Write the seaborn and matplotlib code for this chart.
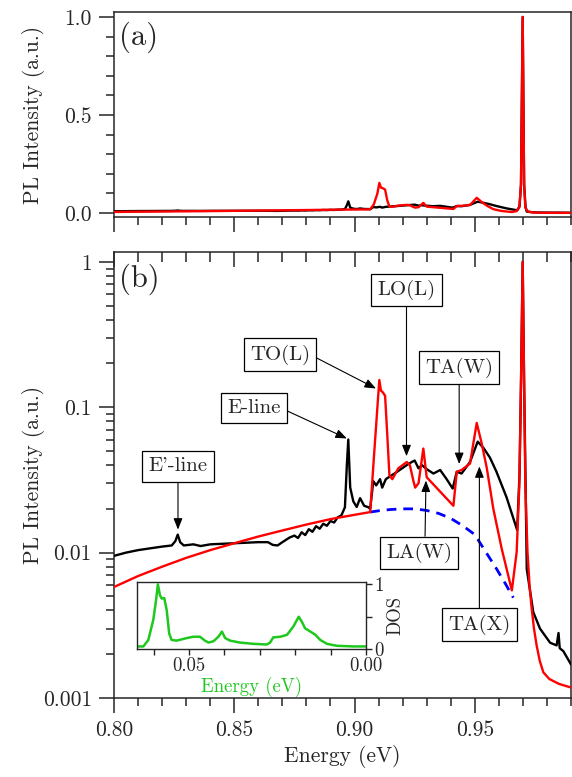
import matplotlib
matplotlib.use("Agg")
import matplotlib.pyplot as plt
import matplotlib.ticker as mticker
import seaborn as sns

# measured PL spectrum (black)
energy_exp = [0.800, 0.805, 0.810, 0.815, 0.820, 0.824, 0.8255, 0.8265, 0.8275, 0.829,
              0.833, 0.836, 0.840, 0.845, 0.850, 0.855, 0.860, 0.864, 0.866, 0.868,
              0.870, 0.873, 0.875, 0.8765, 0.878, 0.8795, 0.881, 0.8825, 0.884, 0.8855,
              0.887, 0.8885, 0.890, 0.8915, 0.893, 0.8945, 0.896, 0.8968, 0.8974, 0.8982,
              0.8995, 0.9009, 0.9023, 0.904, 0.9058, 0.9065,
              0.9078, 0.909, 0.9106, 0.9115, 0.913, 0.9148, 0.9175, 0.9217, 0.9238, 0.925,
              0.9266, 0.928, 0.930, 0.9328, 0.9356, 0.9383, 0.9408, 0.9425, 0.9445, 0.948,
              0.9512, 0.9536, 0.9563, 0.959, 0.9632, 0.9676, 0.9686, 0.9692, 0.9699, 0.9705,
              0.9711, 0.9716, 0.9743, 0.9771, 0.9813, 0.9840, 0.9848, 0.9853, 0.9868, 0.990]
pl_exp = [0.0095, 0.0100, 0.0104, 0.0107, 0.0110, 0.0112, 0.0120, 0.0133, 0.0118, 0.0112,
          0.0114, 0.0111, 0.0114, 0.0115, 0.0116, 0.0117, 0.0118, 0.0118, 0.0113, 0.0112,
          0.0118, 0.0127, 0.0131, 0.0126, 0.0138, 0.0132, 0.0145, 0.0139, 0.0152, 0.0146,
          0.0158, 0.0153, 0.0165, 0.0161, 0.0175, 0.0180, 0.0205, 0.0400, 0.0600, 0.0280,
          0.0225, 0.0206, 0.0237, 0.0210, 0.0205, 0.0200,
          0.0310, 0.0290, 0.0320, 0.0280, 0.0320, 0.0335, 0.0358, 0.0400, 0.0420, 0.0430,
          0.0380, 0.0400, 0.0375, 0.0350, 0.0370, 0.0320, 0.0276, 0.0360, 0.0350, 0.0420,
          0.0580, 0.0525, 0.0450, 0.0360, 0.0240, 0.0143, 0.0350, 0.1450, 1.0000, 0.1450,
          0.0300, 0.0077, 0.0039, 0.0030, 0.0024, 0.0023, 0.0028, 0.0022, 0.0021, 0.0017]

# simulated spectrum (red)
energy_sim = [0.800, 0.810, 0.820, 0.830, 0.840, 0.850, 0.860, 0.870, 0.880, 0.890,
              0.900, 0.9065, 0.9080, 0.9095, 0.9103, 0.9110, 0.9117, 0.9127, 0.9136, 0.9145,
              0.9157, 0.9182, 0.9217, 0.9230, 0.9245, 0.9252, 0.9266, 0.9286, 0.9300, 0.9411,
              0.9425, 0.9445, 0.9480, 0.9508, 0.9529, 0.9550, 0.9577, 0.9612, 0.9654, 0.9674,
              0.9685, 0.9692, 0.9699, 0.9705, 0.9710, 0.9719, 0.9728, 0.9736, 0.9746, 0.9757,
              0.9770, 0.9785, 0.9810, 0.9850, 0.9900]
pl_sim = [0.0058, 0.0069, 0.0080, 0.0092, 0.0104, 0.0116, 0.0129, 0.0142, 0.0156, 0.0170,
          0.0182, 0.0190, 0.0440, 0.1000, 0.1540, 0.1300, 0.1270, 0.1200, 0.0650, 0.0340,
          0.0320, 0.0380, 0.0420, 0.0400, 0.0310, 0.0280, 0.0300, 0.0520, 0.0330, 0.0210,
          0.0360, 0.0370, 0.0410, 0.0780, 0.0560, 0.0380, 0.0200, 0.0106, 0.0055, 0.0101,
          0.0290, 0.1450, 1.0000, 0.1450, 0.0290, 0.0101, 0.0058, 0.0042, 0.0030, 0.0023,
          0.0018, 0.0015, 0.00135, 0.00125, 0.00118]

# background (blue dashed)
energy_bg = [0.9065, 0.910, 0.915, 0.920, 0.925, 0.930, 0.935, 0.940, 0.945, 0.950,
             0.9536, 0.9565, 0.9591, 0.9625, 0.966]
pl_bg = [0.0190, 0.0194, 0.0198, 0.0200, 0.0200, 0.0195, 0.0186, 0.0172, 0.0153, 0.0133,
         0.0107, 0.0090, 0.0077, 0.0062, 0.0049]

# phonon density of states (inset)
dos_energy = [0.0646, 0.0629, 0.0615, 0.0601, 0.0593, 0.0588, 0.0582, 0.0577, 0.0570, 0.0563,
              0.0556, 0.0549, 0.0535, 0.0506, 0.0488, 0.0469, 0.0455, 0.0445, 0.0431, 0.0417,
              0.0407, 0.0398, 0.0384, 0.0356, 0.0318, 0.0280, 0.0271, 0.0262, 0.0242, 0.0223,
              0.0205, 0.0190, 0.0181, 0.0172, 0.0157, 0.0143, 0.0129, 0.0110, 0.0082, 0.0035,
              0.0000]
dos_value = [0.04, 0.04, 0.14, 0.45, 0.76, 1.00, 0.83, 0.78, 0.79, 0.60,
             0.24, 0.14, 0.13, 0.17, 0.19, 0.19, 0.13, 0.10, 0.12, 0.19,
             0.27, 0.17, 0.13, 0.10, 0.08, 0.07, 0.10, 0.18, 0.19, 0.22,
             0.35, 0.50, 0.42, 0.32, 0.27, 0.22, 0.14, 0.08, 0.05, 0.04,
             0.04]

# peak labels: text, arrow tip (x, y), text position (x, y)
peak_names = ["E'-line", "E-line", "TO(L)", "LO(L)", "TA(W)", "LA(W)", "TA(X)"]
tip_x = [0.8266, 0.8968, 0.9089, 0.9216, 0.9435, 0.9297, 0.9519]
tip_y = [0.0144, 0.061, 0.1346, 0.046, 0.0407, 0.0313, 0.0392]
label_x = [0.8266, 0.8582, 0.8690, 0.9216, 0.9435, 0.9268, 0.9519]
label_y = [0.0392, 0.0989, 0.2304, 0.64, 0.187, 0.00993, 0.0032]
arrow_start = [(0.5, 0), (1, 0.5), (1, 0.5), (0.5, 0), (0.5, 0), (0.59, 1), (0.5, 1)]

sns.set_style("ticks")
plt.rcParams["font.family"] = "serif"
plt.rcParams["font.serif"] = ["cmr10", "DejaVu Serif"]
plt.rcParams["mathtext.fontset"] = "cm"
plt.rcParams["axes.linewidth"] = 1.1
plt.rcParams["axes.unicode_minus"] = False

fig = plt.figure(figsize=(5.72, 7.77), dpi=100)
ax_a = fig.add_axes([0.1993, 0.7207, 0.799, 0.2638])
ax_b = fig.add_axes([0.1993, 0.1017, 0.799, 0.574])
ax_in = fig.add_axes([0.2395, 0.1647, 0.4003, 0.0862])

for ax in (ax_a, ax_b):
    sns.lineplot(x=energy_exp, y=pl_exp, ax=ax, color="black", lw=1.7,
                 estimator=None, sort=False, zorder=3)
    sns.lineplot(x=energy_sim, y=pl_sim, ax=ax, color="#ff0000", lw=1.7,
                 estimator=None, sort=False, zorder=4)

sns.lineplot(x=energy_bg, y=pl_bg, ax=ax_b, color="#0000ff", lw=2.0,
             estimator=None, sort=False, zorder=2)
ax_b.lines[-1].set_dashes([3.5, 2.5])

# panel (a): linear scale
ax_a.set_xlim(0.80, 0.99)
ax_a.set_ylim(-0.02, 1.025)
ax_a.yaxis.set_major_locator(mticker.FixedLocator([0.0, 0.5, 1.0]))
ax_a.yaxis.set_minor_locator(mticker.MultipleLocator(0.1))
ax_a.yaxis.set_major_formatter(mticker.FormatStrFormatter("%.1f"))
ax_a.xaxis.set_major_locator(mticker.MultipleLocator(0.05))
ax_a.xaxis.set_minor_locator(mticker.MultipleLocator(0.01))
ax_a.tick_params(axis="x", which="both", labelbottom=False)
ax_a.set_ylabel("PL Intensity (a.u.)", fontsize=15.5)
ax_a.yaxis.set_label_coords(-0.150, 0.5)
ax_a.text(0.012, 0.955, "(a)", transform=ax_a.transAxes, fontsize=22, va="top", ha="left")

# panel (b): log scale
ax_b.set_yscale("log")
ax_b.set_xlim(0.80, 0.99)
ax_b.set_ylim(0.001, 1.17)
ax_b.yaxis.set_major_locator(mticker.FixedLocator([0.001, 0.01, 0.1, 1]))
ax_b.yaxis.set_major_formatter(mticker.FixedFormatter(["0.001", "0.01", "0.1", "1"]))
ax_b.yaxis.set_minor_locator(mticker.LogLocator(base=10, subs=range(2, 10)))
ax_b.yaxis.set_minor_formatter(mticker.NullFormatter())
ax_b.xaxis.set_major_locator(mticker.MultipleLocator(0.05))
ax_b.xaxis.set_minor_locator(mticker.MultipleLocator(0.01))
ax_b.xaxis.set_major_formatter(mticker.FormatStrFormatter("%.2f"))
ax_b.set_ylabel("PL Intensity (a.u.)", fontsize=15.5)
ax_b.yaxis.set_label_coords(-0.150, 0.5)
ax_b.set_xlabel("Energy (eV)", fontsize=15.5)
ax_b.text(0.010, 0.975, "(b)", transform=ax_b.transAxes, fontsize=22, va="top", ha="left")

for ax in (ax_a, ax_b):
    for side in ("top", "right"):
        ax.spines[side].set_visible(True)
    ax.tick_params(which="major", direction="out", length=11, width=1.1, labelsize=15.5, pad=5)
    ax.tick_params(which="minor", direction="out", length=6, width=1.1)
    ax.tick_params(axis="both", which="both", right=False, top=False)
ax_b.tick_params(axis="x", which="both", top=True)
# top ticks of panel (b) point inward
for t in ax_b.xaxis.get_major_ticks():
    t.tick2line.set_marker(matplotlib.lines.TICKDOWN)
    t.tick2line.set_markersize(11)
for t in ax_b.xaxis.get_minor_ticks():
    t.tick2line.set_marker(matplotlib.lines.TICKDOWN)
    t.tick2line.set_markersize(7)

for name, tx, ty, lx, ly, rp in zip(peak_names, tip_x, tip_y, label_x, label_y, arrow_start):
    ax_b.annotate(name, xy=(tx, ty), xytext=(lx, ly), fontsize=15, ha="center", va="center",
                  bbox=dict(boxstyle="square,pad=0.3", fc="white", ec="black", lw=0.9),
                  arrowprops=dict(arrowstyle="-|>,head_length=0.45,head_width=0.18",
                                  color="black", lw=0.8, relpos=rp, shrinkA=0, shrinkB=0),
                  zorder=6)

# inset: phonon DOS
sns.lineplot(x=dos_energy, y=dos_value, ax=ax_in, color="#1ec81e", lw=1.8,
             estimator=None, sort=False)
ax_in.set_xlim(0.0647, 0.0)
ax_in.set_ylim(0, 1.036)
ax_in.set_facecolor("white")
ax_in.set_zorder(5)
ax_in.xaxis.set_major_locator(mticker.FixedLocator([0.05, 0.0]))
ax_in.xaxis.set_major_formatter(mticker.FormatStrFormatter("%.2f"))
ax_in.xaxis.set_minor_locator(mticker.FixedLocator([0.06, 0.04, 0.03, 0.02, 0.01]))
ax_in.yaxis.tick_right()
ax_in.yaxis.set_label_position("right")
ax_in.yaxis.set_major_locator(mticker.FixedLocator([0, 0.5, 1]))
ax_in.yaxis.set_major_formatter(mticker.FixedFormatter(["0", "", "1"]))
ax_in.tick_params(which="both", direction="out", length=4, width=1.0, labelsize=13.5, pad=2)
ax_in.set_xlabel("Energy (eV)", fontsize=13.5, color="#1ec81e", labelpad=1)
ax_in.set_ylabel("DOS", fontsize=13.5, labelpad=2)
for side in ("top", "right", "left", "bottom"):
    ax_in.spines[side].set_visible(True)
    ax_in.spines[side].set_linewidth(1.0)

fig.savefig("out.png", dpi=100)
